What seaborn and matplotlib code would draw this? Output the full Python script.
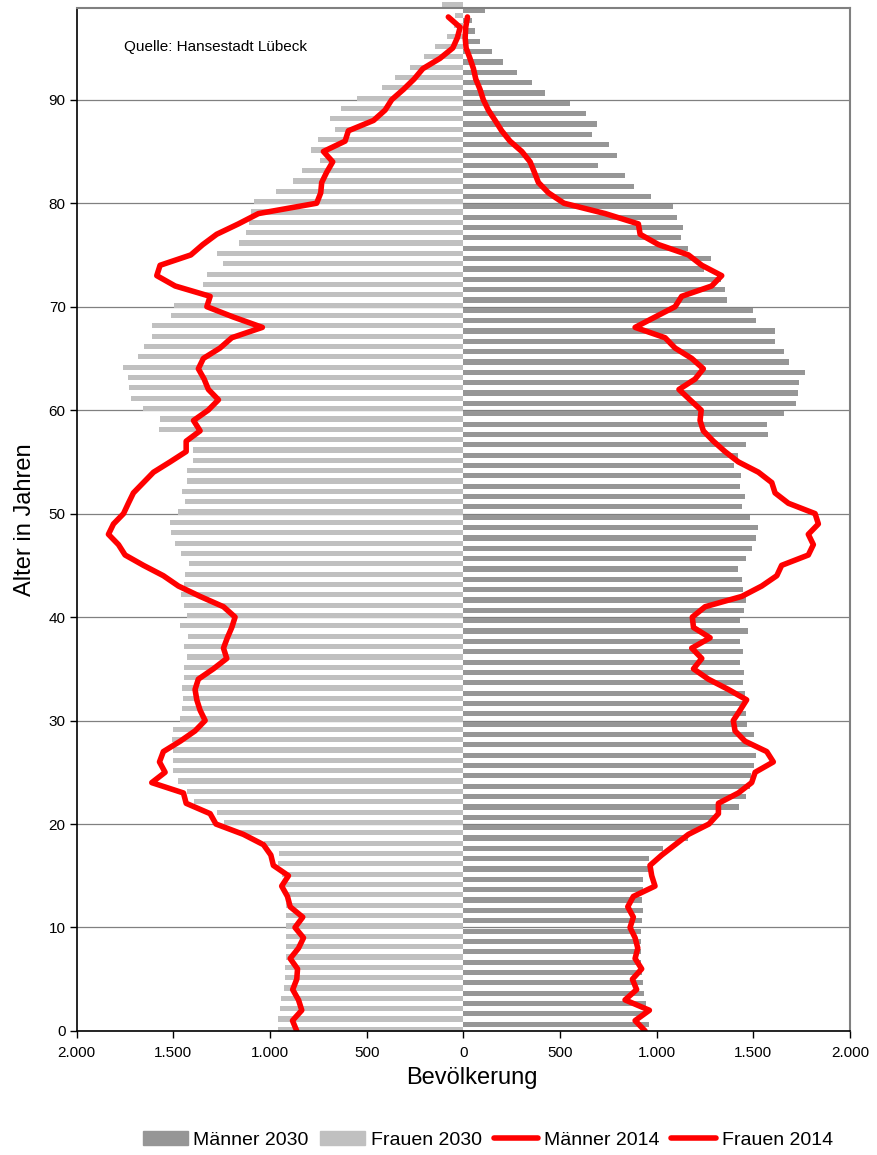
import numpy as np
import pandas as pd
import matplotlib
matplotlib.use('Agg')
import matplotlib.pyplot as plt
import seaborn as sns
from matplotlib.lines import Line2D
from matplotlib.patches import Patch
from matplotlib.ticker import FuncFormatter

# --- data (persons per single year of age) ---
men_2030 = [960, 945, 945, 934, 929, 924, 919, 919, 919, 919,
            924, 929, 924, 929, 929, 965, 960, 1033, 1162, 1240,
            1300, 1426, 1462, 1483, 1490, 1503, 1514, 1500, 1503, 1467,
            1462, 1462, 1457, 1446, 1452, 1431, 1446, 1431, 1472, 1431,
            1452, 1462, 1446, 1441, 1421, 1462, 1493, 1514, 1524, 1483,
            1441, 1457, 1431, 1436, 1400, 1422, 1462, 1576, 1571, 1658,
            1720, 1731, 1736, 1767, 1684, 1658, 1612, 1612, 1514, 1498,
            1364, 1353, 1333, 1245, 1281, 1162, 1126, 1136, 1105, 1084,
            971, 883, 836, 696, 795, 753, 665, 691, 634, 552,
            422, 355, 278, 205, 147, 86, 60, 43, 112]

women_2030 = [958, 958, 948, 943, 928, 922, 922, 917, 917, 917,
              917, 917, 917, 917, 928, 938, 958, 953, 1031, 1155,
              1238, 1276, 1396, 1431, 1476, 1502, 1502, 1500, 1507, 1502,
              1465, 1455, 1450, 1455, 1445, 1445, 1429, 1445, 1424, 1465,
              1429, 1445, 1460, 1445, 1440, 1419, 1460, 1491, 1512, 1517,
              1476, 1440, 1455, 1429, 1429, 1398, 1398, 1414, 1574, 1569,
              1657, 1719, 1729, 1734, 1760, 1683, 1652, 1610, 1610, 1512,
              1496, 1341, 1346, 1326, 1243, 1274, 1160, 1124, 1107, 1098,
              1083, 969, 881, 834, 740, 788, 752, 664, 690, 633,
              550, 421, 353, 276, 203, 147, 83, 50, 43, 112]

men_2014 = [940, 888, 962, 836, 896, 874, 922, 888, 902, 888,
            862, 879, 850, 879, 991, 974, 965, 1026, 1095, 1164,
            1270, 1319, 1319, 1422, 1491, 1509, 1603, 1569, 1457, 1405,
            1396, 1431, 1465, 1371, 1267, 1190, 1233, 1181, 1276, 1190,
            1184, 1250, 1440, 1543, 1621, 1646, 1784, 1810, 1784, 1836,
            1819, 1681, 1612, 1595, 1526, 1422, 1353, 1293, 1241, 1224,
            1230, 1172, 1115, 1198, 1241, 1181, 1095, 1043, 888, 991,
            1095, 1129, 1284, 1336, 1233, 1164, 1009, 914, 905, 733,
            520, 440, 388, 367, 345, 302, 241, 198, 164, 129,
            103, 86, 64, 52, 34, 14, 9, 12, 21]

women_2014 = [862, 884, 836, 853, 883, 862, 858, 896, 853, 827,
              871, 831, 896, 910, 940, 905, 983, 996, 1034, 1138,
              1280, 1310, 1434, 1448, 1612, 1543, 1572, 1552, 1465, 1388,
              1336, 1362, 1379, 1388, 1371, 1293, 1224, 1241, 1221, 1198,
              1181, 1241, 1362, 1474, 1552, 1655, 1750, 1784, 1836, 1810,
              1758, 1733, 1707, 1655, 1603, 1517, 1434, 1434, 1362, 1396,
              1320, 1267, 1319, 1341, 1371, 1345, 1259, 1198, 1040, 1190,
              1327, 1310, 1491, 1586, 1569, 1410, 1348, 1276, 1164, 1060,
              759, 738, 733, 707, 676, 724, 612, 595, 465, 405,
              371, 310, 255, 210, 121, 55, 31, 17, 78]

x_ticks = [-2000, -1500, -1000, -500, 0, 500, 1000, 1500, 2000]
legend_labels = ['Männer 2030', 'Frauen 2030', 'Männer 2014', 'Frauen 2014']

men_bars = pd.DataFrame({'alter': np.arange(len(men_2030)) + 0.65,
                         'wert': men_2030})
women_bars = pd.DataFrame({'alter': np.arange(len(women_2030)) + 0.15,
                           'wert': -np.array(women_2030)})
lines = pd.DataFrame({'alter': np.arange(len(men_2014)),
                      'men': men_2014,
                      'women': -np.array(women_2014)})

sns.set_style('white')
plt.rcParams['font.family'] = ['Liberation Sans', 'DejaVu Sans']
plt.rcParams['text.color'] = 'black'
plt.rcParams['xtick.color'] = 'black'
plt.rcParams['ytick.color'] = 'black'

MEN_C = '#969696'
WOMEN_C = '#c0c0c0'
RED = '#ff0000'

fig = plt.figure(figsize=(8.78, 11.55), dpi=100)
ax = fig.add_axes([0.0874, 0.1074, 0.8808, 0.8857])

sns.barplot(data=men_bars, x='wert', y='alter', orient='y', native_scale=True,
            color=MEN_C, saturation=1, width=0.5, errorbar=None,
            linewidth=0, ax=ax)
sns.barplot(data=women_bars, x='wert', y='alter', orient='y', native_scale=True,
            color=WOMEN_C, saturation=1, width=0.5, errorbar=None,
            linewidth=0, ax=ax)
for p in ax.patches:
    p.set_clip_on(False)

sns.lineplot(data=lines, x='men', y='alter', orient='y', sort=False,
             estimator=None, color=RED, lw=4, ax=ax)
sns.lineplot(data=lines, x='women', y='alter', orient='y', sort=False,
             estimator=None, color=RED, lw=4, ax=ax)
for ln in ax.lines:
    ln.set_solid_joinstyle('round')
    ln.set_solid_capstyle('round')

ax.set_xlim(-2000, 2000)
ax.set_ylim(0, 98.87)
ax.set_xticks(x_ticks)
ax.set_yticks(range(0, 91, 10))
ax.xaxis.set_major_formatter(FuncFormatter(lambda v, pos: f'{abs(int(v)):,}'.replace(',', '.')))
ax.yaxis.grid(True, color='#808080', lw=0.9)
ax.xaxis.grid(False)
ax.set_axisbelow(True)
ax.tick_params(axis='both', labelsize=11, direction='out', length=5,
               width=1, color='black', labelcolor='black', left=True, bottom=True)
ax.tick_params(axis='x', pad=6)
ax.tick_params(axis='y', pad=3)
ax.set_xlabel('')
ax.set_ylabel('')

for side in ['left', 'bottom']:
    ax.spines[side].set_color('black')
    ax.spines[side].set_linewidth(1.2)
for side in ['top', 'right']:
    ax.spines[side].set_color('#808080')
    ax.spines[side].set_linewidth(1.5)

ax.text(0.061, 0.962, 'Quelle: Hansestadt Lübeck', transform=ax.transAxes,
        fontsize=11, va='center', ha='left', color='black')

fig.text(472 / 878, 1 - 1078 / 1155, 'Bevölkerung', fontsize=17,
         ha='center', va='center', color='black')
fig.text(25 / 878, 1 - 520 / 1155, 'Alter in Jahren', fontsize=17,
         ha='center', va='center', rotation=90, color='black')

handles = [Patch(color=MEN_C), Patch(color=WOMEN_C),
           Line2D([], [], color=RED, lw=4, solid_capstyle='round'),
           Line2D([], [], color=RED, lw=4, solid_capstyle='round')]
fig.legend(handles, legend_labels, loc='center',
           bbox_to_anchor=(488 / 878, 15 / 1155), ncol=4, frameon=False,
           fontsize=14, handlelength=2.3, handletextpad=0.3,
           columnspacing=0.6, borderaxespad=0)

fig.savefig('out.png', dpi=100)
